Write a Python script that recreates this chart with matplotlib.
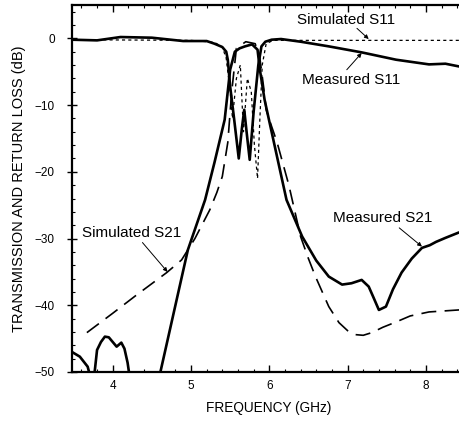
import matplotlib
matplotlib.use("Agg")
import matplotlib.pyplot as plt
from matplotlib.ticker import MultipleLocator

plt.rcParams["font.family"] = ["Liberation Sans", "DejaVu Sans"]

# ── Data ──────────────────────────────────────────────────────────────────────
meas_s21_f = [3.48, 3.58, 3.68, 3.72, 3.76, 3.80, 3.85, 3.90, 3.95, 4.00, 4.05,
              4.11, 4.15, 4.19, 4.22, 4.59, 4.96, 5.18, 5.30, 5.43, 5.50, 5.56,
              5.62, 5.69, 5.78, 5.85, 5.88, 5.94, 6.05, 6.22, 6.42, 6.60, 6.76,
              6.93, 7.05, 7.18, 7.27, 7.33, 7.40, 7.49, 7.58, 7.69, 7.82, 7.95,
              8.05, 8.13, 8.25, 8.42, 8.50]
meas_s21_db = [-47.0, -47.7, -49.2, -51.0, -51.0, -46.7, -45.5, -44.7, -44.8,
               -45.5, -46.2, -45.6, -46.5, -48.6, -51.0, -51.0, -31.7, -24.2,
               -18.6, -12.2, -4.7, -2.0, -1.5, -1.2, -0.9, -1.7, -4.7, -9.2,
               -15.1, -24.2, -29.7, -33.3, -35.7, -36.9, -36.7, -36.2, -37.2,
               -38.8, -40.7, -40.2, -37.6, -35.1, -33.0, -31.4, -31.0, -30.5,
               -29.9, -29.1, -28.9]

meas_s11_f = [3.48, 3.8, 4.1, 4.5, 4.9, 5.2, 5.3, 5.4, 5.45, 5.47, 5.50, 5.55,
              5.61, 5.65, 5.68, 5.71, 5.75, 5.80, 5.86, 5.90, 5.95, 6.03, 6.15,
              6.4, 6.76, 7.18, 7.62, 8.04, 8.25, 8.42, 8.50]
meas_s11_db = [-0.2, -0.3, 0.2, 0.1, -0.4, -0.4, -0.8, -1.3, -2.0, -3.2, -7.2,
               -12.0, -18.0, -13.5, -10.7, -14.0, -18.2, -11.0, -4.0, -1.2, -0.5,
               -0.2, -0.1, -0.5, -1.2, -2.1, -3.2, -3.9, -3.8, -4.2, -4.3]

sim_s11_f = [3.48, 5.0, 5.3, 5.40, 5.45, 5.50, 5.53, 5.58, 5.63, 5.67, 5.72,
             5.77, 5.81, 5.85, 5.88, 5.91, 5.96, 6.05, 6.5, 8.50]
sim_s11_db = [-0.2, -0.3, -0.6, -1.3, -3.0, -8.0, -12.0, -6.0, -4.0, -14.0,
              -6.0, -8.0, -16.0, -21.0, -12.0, -4.0, -0.8, -0.3, -0.3, -0.3]

sim_s21_f = [3.67, 4.0, 4.3, 4.69, 4.88, 5.05, 5.24, 5.33, 5.40, 5.47, 5.52,
             5.58, 5.70, 5.82, 5.88, 5.93, 5.96, 6.03, 6.10, 6.25, 6.40, 6.50,
             6.59, 6.76, 6.89, 7.0, 7.1, 7.2, 7.31, 7.45, 7.62, 7.8, 8.04, 8.42,
             8.50]
sim_s21_db = [-44.1, -41.2, -38.5, -35.1, -33.2, -30.0, -25.7, -23.1, -20.7,
              -15.6, -8.0, -1.5, -0.5, -0.8, -3.0, -7.5, -10.7, -13.2, -15.6,
              -22.0, -29.7, -33.0, -35.7, -40.2, -42.6, -43.8, -44.4, -44.5,
              -44.1, -43.3, -42.5, -41.6, -41.0, -40.7, -40.7]

y_ticks = [0, -10, -20, -30, -40, -50]
x_ticks = [4, 5, 6, 7, 8]

# ── Figure ────────────────────────────────────────────────────────────────────
fig = plt.figure(figsize=(4.59, 4.21), dpi=100)
ax = fig.add_axes([72 / 459, 49 / 421, (465 - 72) / 459, (372 - 5) / 421])

ax.plot(meas_s21_f, meas_s21_db, color="black", lw=1.9, solid_joinstyle="round")
ax.plot(meas_s11_f, meas_s11_db, color="black", lw=1.9, solid_joinstyle="round")
ax.plot(sim_s21_f, sim_s21_db, color="black", lw=1.2, dashes=(9, 5))
ax.plot(sim_s11_f, sim_s11_db, color="black", lw=0.9, dashes=(2.5, 2.5))

ax.set_xlim(3.48, 8.5)
ax.set_ylim(-50, 5)
ax.set_xticks(x_ticks)
ax.set_yticks(y_ticks)
ax.xaxis.set_minor_locator(MultipleLocator(0.2))
ax.yaxis.set_minor_locator(MultipleLocator(2))

for s in ["left", "top", "bottom"]:
    ax.spines[s].set_linewidth(1.6)
ax.spines["right"].set_visible(False)

ax.tick_params(axis="x", which="major", direction="in", length=5, width=1,
               top=True, labelsize=8.5, pad=6)
ax.tick_params(axis="x", which="minor", direction="in", length=2.5, width=0.8,
               top=True)
ax.tick_params(axis="y", which="major", direction="inout", length=7, width=1,
               labelsize=8.5, pad=9)
ax.tick_params(axis="y", which="minor", direction="in", length=2.5, width=0.8)

ax.set_xlabel("FREQUENCY (GHz)", fontsize=9.8, labelpad=6)
ax.set_ylabel("TRANSMISSION AND RETURN LOSS (dB)", fontsize=10.5, labelpad=6)

# ── Curve labels ──────────────────────────────────────────────────────────────
arrow = dict(arrowstyle="-|>", lw=0.7, color="black", mutation_scale=6,
             shrinkA=0, shrinkB=0)
labels = [
    ("Simulated S11", (6.98, 2.7), (7.12, 1.5), (7.27, -0.1)),
    ("Measured S11", (7.05, -6.3), (6.99, -4.7), (7.18, -2.2)),
    ("Measured S21", (7.45, -26.9), (7.66, -28.4), (7.95, -31.2)),
    ("Simulated S21", (4.24, -29.1), (4.38, -30.6), (4.70, -35.0)),
]
for txt, pos, start, end in labels:
    ax.text(pos[0], pos[1], txt, fontsize=11, ha="center", va="center")
    ax.annotate("", xy=end, xytext=start, arrowprops=arrow)

fig.savefig("out.png", dpi=100)
